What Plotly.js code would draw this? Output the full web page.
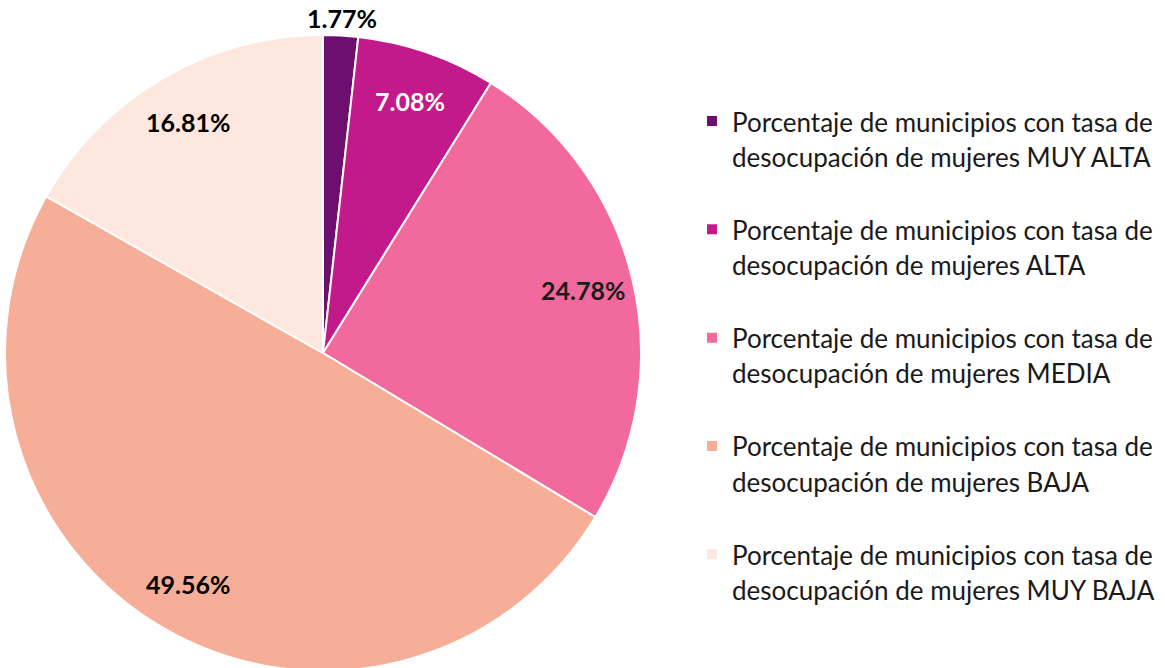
<!DOCTYPE html>
<html><head><meta charset="utf-8">
<script src="https://cdn.plot.ly/plotly-3.0.1.min.js"></script>
<style>html,body{margin:0;padding:0;overflow:hidden;background:#fff}</style>
</head><body><div id="chart" style="width:1165px;height:671px"></div>
<script>
const categories = [
  "Porcentaje de municipios con tasa de<br>desocupación de mujeres MUY ALTA",
  "Porcentaje de municipios con tasa de<br>desocupación de mujeres ALTA",
  "Porcentaje de municipios con tasa de<br>desocupación de mujeres MEDIA",
  "Porcentaje de municipios con tasa de<br>desocupación de mujeres BAJA",
  "Porcentaje de municipios con tasa de<br>desocupación de mujeres MUY BAJA"
];
const values = [1.77, 7.08, 24.78, 49.56, 16.81];
const colors = ["#6c0f6e", "#c31a8b", "#f2699e", "#f7ae99", "#fde7de"];
const textColors = ["#000000", "#ffffff", "#1a1a1a", "#000000", "#000000"];
const outsideLabel = [true, false, false, false, false];

// geometry of the pie (pixels)
const W = 1165, H = 671;
const R = 318, CX = 323, CY = H - R;
const insideFactor = 0.84;
const outsideFactor = 1.055;

const total = values.reduce((a, b) => a + b, 0);
const annotations = [];
let cum = 0;
values.forEach((v, i) => {
  const mid = (cum + v / 2) / total * 2 * Math.PI;
  cum += v;
  const f = outsideLabel[i] ? outsideFactor : insideFactor;
  const px = CX + f * R * Math.sin(mid);
  const py = CY - f * R * Math.cos(mid);
  annotations.push({
    xref: "paper", yref: "paper", x: px / W, y: 1 - py / H,
    xanchor: "center", yanchor: "middle", showarrow: false,
    text: v.toFixed(2) + "%",
    font: {family: "Lato, sans-serif", size: 25, color: textColors[i], weight: "bold"}
  });
});

const legendLabel = (c, last) =>
  '<span style="font-size:26px">' + c.replace("<br>", '</span><br><span style="font-size:26px">') + "</span>" + (last ? "" : "<br> ");

const trace = {
  type: "pie",
  labels: categories.map((c, i) => legendLabel(c, i === categories.length - 1)),
  values: values,
  sort: false,
  direction: "clockwise",
  rotation: 0,
  marker: {colors: colors, line: {color: "#ffffff", width: 2}},
  textinfo: "none",
  domain: {x: [(CX - R) / W, (CX + R) / W], y: [0, 2 * R / H]},
  automargin: false,
  hoverinfo: "percent"
};

const layout = {
  width: W, height: H,
  margin: {l: 0, r: 0, t: 0, b: 0},
  paper_bgcolor: "#ffffff",
  showlegend: true,
  annotations: annotations,
  legend: {
    x: 692 / W, xanchor: "left", y: 1 - 97 / H, yanchor: "top",
    valign: "top",
    font: {family: "Lato, sans-serif", size: 27, color: "#1a1a1a"},
    bgcolor: "rgba(0,0,0,0)"
  }
};
Plotly.newPlot("chart", [trace], layout, {displayModeBar: false, staticPlot: true});
</script></body></html>
